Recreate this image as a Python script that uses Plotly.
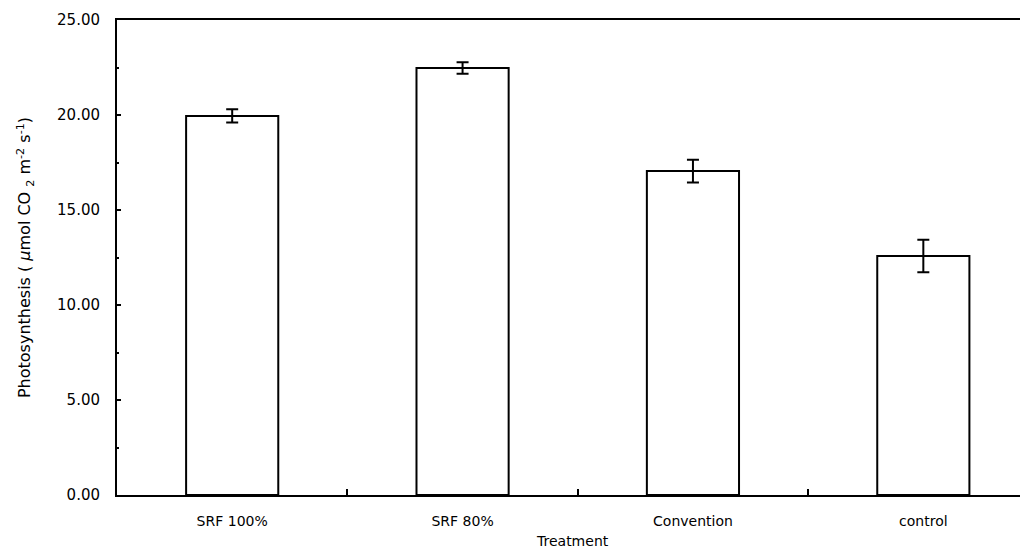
import plotly.graph_objects as go

categories = ["SRF 100%", "SRF 80%", "Convention", "control"]
values = [19.95, 22.47, 17.05, 12.58]
errors = [0.35, 0.3, 0.6, 0.85]
y_ticks = [0, 5, 10, 15, 20, 25]
x_title = "Treatment"
y_title = "Photosynthesis ( <i>μ</i>mol CO <sub>2</sub> m<sup>-2</sup> s<sup>-1</sup>)"

fig = go.Figure()
fig.add_trace(go.Bar(
    x=categories, y=values, width=0.40,
    marker=dict(color="white", line=dict(color="black", width=2)),
    error_y=dict(type="data", array=errors, visible=True, color="black",
                 thickness=2, width=6),
))

font_family = "DejaVu Sans, Liberation Sans, sans-serif"
fig.update_layout(
    width=1020, height=544,
    margin=dict(l=109, r=1, t=12, b=57),
    plot_bgcolor="white", paper_bgcolor="white",
    showlegend=False,
    font=dict(family=font_family, color="black", size=14),
)
fig.update_xaxes(
    range=[-0.5, 3.45], automargin=False,
    showline=True, linecolor="black", linewidth=2, mirror=True,
    ticks="inside", ticklen=6, tickwidth=1.5, tickcolor="black",
    tickson="boundaries", ticklabelstandoff=12,
    showgrid=False,
    tickfont=dict(size=14, family=font_family, color="black"),
)
fig.update_yaxes(
    range=[0, 25], tickvals=y_ticks, tickformat=".2f", automargin=False,
    showline=True, linecolor="black", linewidth=2,
    ticks="inside", ticklen=4, tickwidth=1.5, tickcolor="black",
    ticklabelstandoff=12,
    showgrid=False, zeroline=False,
    tickfont=dict(size=15, family=font_family, color="black"),
    minor=dict(ticks="inside", ticklen=2, tickcolor="black", dtick=2.5),
    title=dict(text=y_title,
               font=dict(size=16, family=font_family, color="black"), standoff=22),
)
fig.add_annotation(
    text=x_title, xref="paper", yref="paper", x=0.5, y=-0.097,
    xanchor="center", yanchor="middle", showarrow=False,
    font=dict(size=14, family=font_family, color="black"),
)

fig.write_html("out.html")
